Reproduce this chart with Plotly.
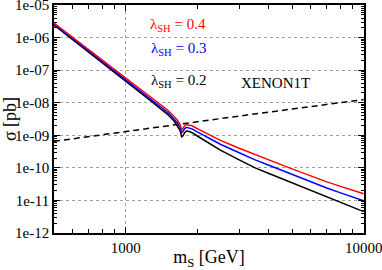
import plotly.graph_objects as go

# ---- data ----
mass = [500, 600, 700, 800, 900, 1000, 1100, 1200, 1300, 1400, 1500, 1600, 1650, 1690,
        1720, 1740, 1770, 1800, 1850, 1900, 2000, 2200, 2500, 3000, 3500, 4000, 5000,
        6000, 7000, 8000, 9000, 10000]
sigma_04 = [2.8e-6, 1.01e-6, 4.26e-7, 2.01e-7, 1.04e-7, 5.8e-8, 3.39e-8, 2.08e-8, 1.33e-8,
            8.8e-9, 6.0e-9, 3.7e-9, 2.9e-9, 2.2e-9, 1.5e-9, 1.6e-9, 2.0e-9, 2.15e-9, 2.1e-9,
            1.95e-9, 1.6e-9, 1.1e-9, 7.0e-10, 4.0e-10, 2.5e-10, 1.75e-10, 9.3e-11, 5.6e-11,
            3.7e-11, 2.7e-11, 2.05e-11, 1.6e-11]
sigma_03 = [2.6e-6, 9.3e-7, 3.9e-7, 1.83e-7, 9.4e-8, 5.2e-8, 3.0e-8, 1.83e-8, 1.16e-8,
            7.6e-9, 5.1e-9, 3.1e-9, 2.4e-9, 1.8e-9, 1.2e-9, 1.3e-9, 1.6e-9, 1.75e-9, 1.7e-9,
            1.57e-9, 1.28e-9, 8.6e-10, 5.3e-10, 2.9e-10, 1.75e-10, 1.2e-10, 6.2e-11, 3.7e-11,
            2.4e-11, 1.7e-11, 1.28e-11, 9.8e-12]
sigma_02 = [2.45e-6, 8.7e-7, 3.6e-7, 1.68e-7, 8.6e-8, 4.7e-8, 2.7e-8, 1.62e-8, 1.02e-8,
            6.6e-9, 4.4e-9, 2.7e-9, 2.0e-9, 1.45e-9, 0.9e-9, 0.95e-9, 1.2e-9, 1.35e-9, 1.3e-9,
            1.2e-9, 9.5e-10, 6.2e-10, 3.5e-10, 1.75e-10, 1.0e-10, 6.7e-11, 3.5e-11, 2.0e-11,
            1.25e-11, 8.5e-12, 6.0e-12, 4.5e-12]
xenon_mass = [500, 700, 1000, 1500, 2000, 3000, 4000, 5000, 7000, 8500, 10000]
xenon_sigma = [6.5e-10, 9.0e-10, 1.3e-9, 1.95e-9, 2.6e-9, 3.9e-9, 5.2e-9, 6.4e-9, 8.9e-9,
               1.05e-8, 1.25e-8]

x_tickvals = [1000, 10000]
x_ticktext = ["1000", "10000"]
y_tickvals = [1e-12, 1e-11, 1e-10, 1e-9, 1e-8, 1e-7, 1e-6, 1e-5]
y_ticktext = ["1e-12", "1e-11", "1e-10", "1e-09", "1e-08", "1e-07", "1e-06", "1e-05"]
x_minor = [600, 700, 800, 900, 2000, 3000, 4000, 5000, 6000, 7000, 8000, 9000]
y_minor = [m * 10.0 ** e for e in range(-12, -5) for m in range(2, 10)]

labels = ["λ<sub>SH</sub> = 0.4", "λ<sub>SH</sub> = 0.3", "λ<sub>SH</sub> = 0.2"]
colors = ["#ff0000", "#0000ff", "#000000"]

FONT = "Liberation Serif, Times New Roman, DejaVu Serif, serif"

fig = go.Figure()
fig.add_trace(go.Scatter(x=xenon_mass, y=xenon_sigma, mode="lines",
                         line=dict(color="black", width=1.5, dash="6px,4px"),
                         showlegend=False))
for ys, c in zip([sigma_02, sigma_03, sigma_04], colors[::-1]):
    fig.add_trace(go.Scatter(x=mass, y=ys, mode="lines", line=dict(color=c, width=1.5),
                             showlegend=False))

axis_common = dict(showline=True, linecolor="black", linewidth=1.5, mirror="ticks",
                   ticks="inside", ticklen=6, tickcolor="black", tickwidth=1,
                   showgrid=True, gridcolor="#a0a0a0", griddash="dot", gridwidth=1,
                   zeroline=False, automargin=False, ticklabeloverflow="allow",
                   tickfont=dict(family=FONT, size=15, color="black"))

fig.update_xaxes(type="log", range=[2.69897, 4.0015], tickmode="array",
                 tickvals=x_tickvals, ticktext=x_ticktext,
                 minor=dict(tickmode="array", tickvals=x_minor, ticks="inside", ticklen=4,
                            tickcolor="black", showgrid=False),
                 title=dict(text="m<sub>S</sub> [GeV]", font=dict(family=FONT, size=18, color="black"),
                            standoff=0),
                 **axis_common)
fig.update_yaxes(type="log", range=[-12.002, -4.998], tickmode="array",
                 tickvals=y_tickvals, ticktext=y_ticktext,
                 minor=dict(tickmode="array", tickvals=y_minor, ticks="inside", ticklen=3,
                            tickcolor="black", showgrid=False),
                 title=dict(text="σ [pb]", font=dict(family=FONT, size=18, color="black"),
                            standoff=2),
                 **axis_common)

label_pos = [(0.40, 0.912), (0.40, 0.807), (0.40, 0.667)]
for t, c, (px, py) in zip(labels, colors, label_pos):
    fig.add_annotation(text=t, x=px, y=py, xref="paper", yref="paper", showarrow=False,
                       xanchor="center", yanchor="middle",
                       font=dict(family=FONT, size=15, color=c))
fig.add_annotation(text="XENON1T", x=0.716, y=0.658, xref="paper", yref="paper",
                   showarrow=False, xanchor="center", yanchor="middle",
                   font=dict(family=FONT, size=15, color="black"))

fig.update_layout(template="none", width=382, height=270,
                  margin=dict(l=54, r=18, t=5, b=37, autoexpand=False),
                  paper_bgcolor="white", plot_bgcolor="white",
                  font=dict(family=FONT, color="black"))
fig.write_html("out.html", config={"displayModeBar": False},
               post_script="document.body.style.margin='0';")
